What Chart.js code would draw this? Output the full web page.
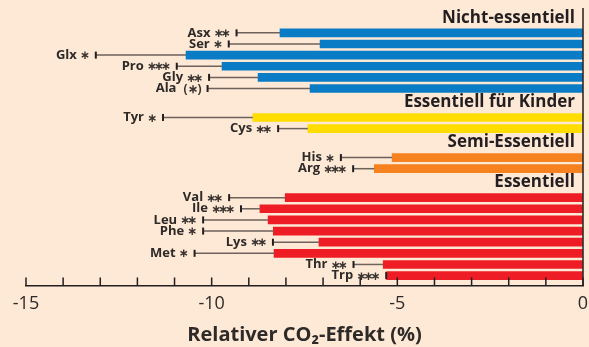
<!DOCTYPE html>
<html>
<head>
<meta charset="utf-8">
<script src="https://cdn.jsdelivr.net/npm/chart.js@4/dist/chart.umd.min.js"></script>
<style>
  html, body { margin: 0; padding: 0; background: #fee8d6; }
  #wrap { width: 589px; height: 347px; }
</style>
</head>
<body>
<div id="wrap"><canvas id="chart" width="589" height="347"></canvas></div>
<script>
// amino acids, top to bottom
var names = ['Asx', 'Ser', 'Glx', 'Pro', 'Gly', 'Ala', 'Tyr', 'Cys', 'His', 'Arg',
  'Val', 'Ile', 'Leu', 'Phe', 'Lys', 'Met', 'Thr', 'Trp'];
var groupNames = ['Nicht-essentiell', 'Essentiell für Kinder', 'Semi-Essentiell', 'Essentiell'];
var groupSizes = [6, 2, 2, 8];
var groupColors = ['#0a7cc5', '#ffdd00', '#f6821f', '#ee1c25'];
// relative CO2 effect (%)
var values = [-8.16, -7.08, -10.69, -9.72, -8.75, -7.35, -8.89, -7.41, -5.14, -5.62,
  -8.02, -8.70, -8.48, -8.34, -7.11, -8.32, -5.38, -5.29];
// left end of the error bar
var lower = [-9.33, -9.54, -13.12, -10.94, -10.07, -10.11, -11.31, -8.21, -6.52, -6.19,
  -9.53, -9.21, -10.23, -10.23, -8.35, -10.46, -6.18, -5.30];
var signif = ['**', '*', '*', '***', '**', '(*)', '*', '**', '*', '***',
  '**', '***', '**', '*', '**', '*', '**', '***'];
var xTicks = [-15, -10, -5, 0];

(function () {
  var GAP = 2.6;      // extra rows before each new group
  var HEAD = 1.35;    // heading sits this many rows above its first bar

  // row positions from the group structure
  var pos = [], colors = [], heads = [];
  var p = 0;
  groupSizes.forEach(function (n, g) {
    if (g > 0) p += GAP - 1;
    heads.push(p - HEAD);
    for (var i = 0; i < n; i++) {
      pos.push(p);
      colors.push(groupColors[g]);
      p += 1;
    }
  });

  var points = values.map(function (v, i) {
    return { x: v, y: pos[i] };
  });

  var decor = {
    id: 'decor',
    afterDatasetsDraw: function (chart) {
      var ctx = chart.ctx;
      var xs = chart.scales.x, ys = chart.scales.y;
      var area = chart.chartArea;
      ctx.save();

      // error bars
      for (var i = 0; i < values.length; i++) {
        var y = ys.getPixelForValue(pos[i]);
        var x0 = xs.getPixelForValue(values[i]);
        var x1 = xs.getPixelForValue(lower[i]);
        ctx.strokeStyle = '#6e625b';
        ctx.lineWidth = 1.5;
        ctx.beginPath();
        ctx.moveTo(x1, y);
        ctx.lineTo(x0, y);
        ctx.stroke();
        ctx.strokeStyle = '#231f20';
        ctx.lineWidth = 2;
        ctx.beginPath();
        ctx.moveTo(x1, y - 3.5);
        ctx.lineTo(x1, y + 3.5);
        ctx.stroke();

        // stars + name
        var s = signif[i];
        var right = x1 - 6;
        ctx.fillStyle = '#3a3431';
        ctx.textBaseline = 'middle';
        ctx.textAlign = 'right';
        var left;
        if (s.charAt(0) === '(') {
          ctx.font = 'bold 12px "Open Sans"';
          var txt = '(\u2217)';
          ctx.fillText(txt, right, y + 1);
          left = right - ctx.measureText(txt).width;
        } else {
          ctx.font = 'bold 12px "DejaVu Sans"';
          var step = 7;
          for (var j = 0; j < s.length; j++) {
            ctx.fillText('\u2217', right - j * step, y + 1);
          }
          left = right - (s.length - 1) * step - 6;
        }
        ctx.font = 'bold 13px "Open Sans"';
        ctx.fillStyle = '#2e2a28';
        ctx.fillText(names[i], left - 7, y);
      }

      // group headings
      ctx.font = 'bold 17px "Open Sans"';
      ctx.fillStyle = '#231f20';
      ctx.textAlign = 'right';
      ctx.textBaseline = 'middle';
      heads.forEach(function (h, g) {
        ctx.fillText(groupNames[g], xs.getPixelForValue(0) - 8, ys.getPixelForValue(h));
      });

      // right frame line and inward ticks
      ctx.strokeStyle = '#231f20';
      ctx.lineWidth = 1.5;
      var xz = xs.getPixelForValue(0);
      ctx.beginPath();
      ctx.moveTo(xz, area.top);
      ctx.lineTo(xz, area.bottom);
      ctx.stroke();
      ctx.beginPath();
      for (var t = xs.min; t <= xs.max; t++) {
        var xt = xs.getPixelForValue(t);
        ctx.moveTo(xt, area.bottom);
        ctx.lineTo(xt, area.bottom - 8);
      }
      ctx.stroke();
      ctx.restore();
    }
  };

  new Chart(document.getElementById('chart').getContext('2d'), {
    type: 'bar',
    data: {
      datasets: [{
        data: points,
        backgroundColor: colors,
        borderWidth: 0,
        barThickness: 8
      }]
    },
    options: {
      indexAxis: 'y',
      responsive: false,
      animation: false,
      layout: { padding: { left: 26, right: 6, top: 8, bottom: 0 } },
      plugins: { legend: { display: false }, tooltip: { enabled: false } },
      scales: {
        y: {
          type: 'linear',
          display: false,
          offset: false,
          reverse: true,
          min: -2.23,
          max: 22.68
        },
        x: {
          type: 'linear',
          min: -15,
          max: 0,
          afterFit: function (scale) {
            scale.paddingLeft = 0;
            scale.paddingRight = 0;
          },
          border: { display: true, color: '#231f20', width: 1.5 },
          grid: { display: true, drawOnChartArea: false, drawTicks: false },
          ticks: {
            stepSize: 1,
            autoSkip: false,
            maxRotation: 0,
            padding: 8,
            color: '#2e2a28',
            font: { family: '"Open Sans"', size: 18 },
            callback: function (v) {
              return xTicks.indexOf(v) >= 0 ? String(v) : '';
            }
          },
          title: {
            display: true,
            text: 'Relativer CO\u2082-Effekt (%)',
            color: '#2e2a28',
            font: { family: '"Open Sans"', size: 20, weight: 'bold' },
            padding: { top: 0, bottom: 0 }
          }
        }
      }
    },
    plugins: [decor]
  });
})();
</script>
</body>
</html>
